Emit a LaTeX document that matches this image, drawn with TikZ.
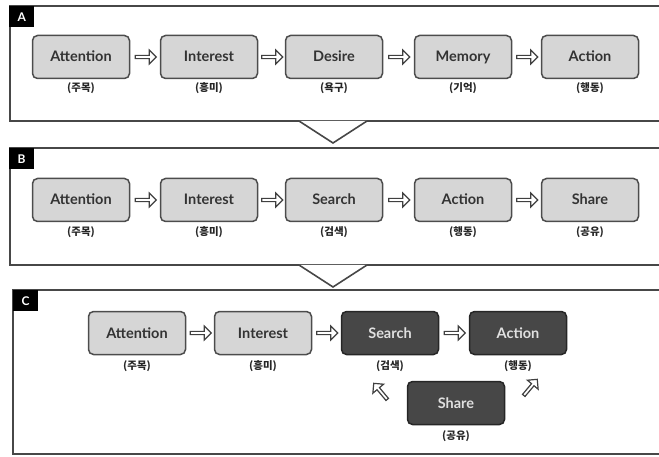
\documentclass[tikz,border=0pt]{standalone}
\usepackage{fontspec}
\setmainfont{Lato}
\newfontfamily\krfont{Noto Sans CJK KR}
\usetikzlibrary{shapes.arrows,calc}

\begin{document}
\begin{tikzpicture}[x=1pt,y=-1pt,
  stage/.style={draw=black!70, line width=1.5pt, rounded corners=5pt, fill=black!16,
    minimum width=97pt, minimum height=43pt, text=black!80,
    text height=10pt, text depth=0pt,
    font=\fontsize{14.5}{16}\selectfont\bfseries},
  darkstage/.style={stage, draw=black!85, fill=black!72, text=black!12},
  sub/.style={text=black!85, font=\krfont\fontsize{10.5}{11}\selectfont\bfseries},
  panel/.style={draw=black!72, line width=2.2pt},
  tag/.style={fill=black, text=white, inner sep=0pt, minimum width=25pt,
    minimum height=21pt, font=\fontsize{12}{12}\selectfont\bfseries},
  flow/.style={single arrow, draw=black!75, fill=white, line width=1.2pt, inner sep=0pt,
    minimum height=21pt, minimum width=14pt, single arrow head extend=2pt}]

\useasboundingbox (0,0) rectangle (659,457);
\clip (0,0) rectangle (659,457);

%% three panels, the right side runs off the page
\draw[panel] (10,6) rectangle (690,121);
\draw[panel] (10,148) rectangle (690,265);
\draw[panel] (13,290) rectangle (690,454);
\draw[panel, line width=1.6pt, fill=white] (299,121) -- (333,143) -- (367,121);
\draw[panel, line width=1.6pt, fill=white] (299,265) -- (333,287) -- (367,265);
\node[tag, anchor=north west] (tagA) at (9,6) {A};
\node[tag, anchor=north west] (tagB) at (9,148) {B};
\node[tag, anchor=north west] (tagC) at (13,290) {C};

%% A: AIDMA
\node[stage] (a1) at (81,57) {Attention};
\node[stage] (a2) at (209,57) {Interest};
\node[stage] (a3) at (334,57) {Desire};
\node[stage] (a4) at (463,57) {Memory};
\node[stage] (a5) at (590,57) {Action};
\node[sub] (a1k) at (81,88) {(주목)};
\node[sub] (a2k) at (209,88) {(흥미)};
\node[sub] (a3k) at (334,88) {(욕구)};
\node[sub] (a4k) at (463,88) {(기억)};
\node[sub] (a5k) at (590,88) {(행동)};

%% B: AISAS
\node[stage] (b1) at (81,200) {Attention};
\node[stage] (b2) at (209,200) {Interest};
\node[stage] (b3) at (334,200) {Search};
\node[stage] (b4) at (463,200) {Action};
\node[stage] (b5) at (590,200) {Share};
\node[sub] (b1k) at (81,232) {(주목)};
\node[sub] (b2k) at (209,232) {(흥미)};
\node[sub] (b3k) at (334,232) {(검색)};
\node[sub] (b4k) at (463,232) {(행동)};
\node[sub] (b5k) at (590,232) {(공유)};

%% C: AISAS with the share loop
\node[stage] (c1) at (137,333) {Attention};
\node[stage] (c2) at (263,333) {Interest};
\node[darkstage] (c3) at (390,333) {Search};
\node[darkstage] (c4) at (518,333) {Action};
\node[darkstage] (c5) at (456,403) {Share};
\node[sub] (c1k) at (137,366) {(주목)};
\node[sub] (c2k) at (263,366) {(흥미)};
\node[sub] (c3k) at (390,366) {(검색)};
\node[sub] (c4k) at (518,366) {(행동)};
\node[sub] (c5k) at (456,436) {(공유)};

\foreach \i/\j in {a1/a2,a2/a3,a3/a4,a4/a5,b1/b2,b2/b3,b3/b4,b4/b5,c1/c2,c2/c3,c3/c4}
  \node[flow] (\i\j) at ($(\i.east)!0.5!(\j.west)$) {};
\node[flow, rotate=130] (c5c3) at ($(c5)+(-75,-11)$) {};
\node[flow, rotate=50] (c5c4) at ($(c5)+(74,-15)$) {};

\end{tikzpicture}
\end{document}
